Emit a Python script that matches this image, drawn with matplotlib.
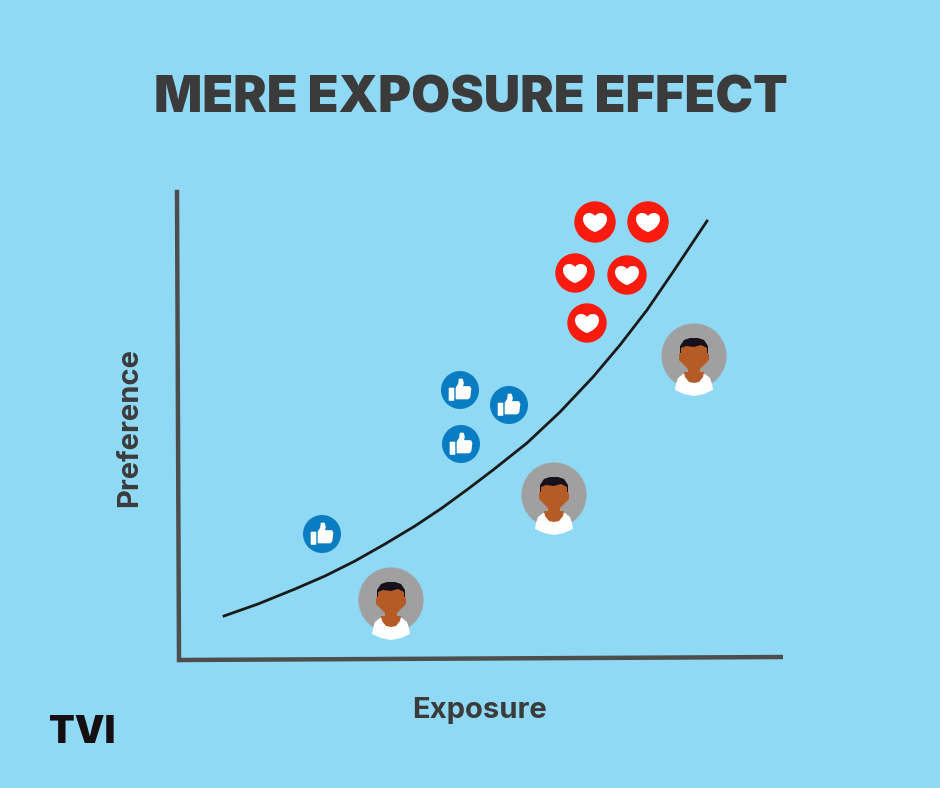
import matplotlib
matplotlib.use('Agg')
import matplotlib.pyplot as plt
from matplotlib.patches import Circle, Polygon, PathPatch, FancyBboxPatch
from matplotlib.path import Path

BG = '#8FD9F5'
DARK = '#3B3B3B'
AXIS = '#4D4D4D'
SKIN = '#B55C26'
HAIR = '#15101A'

title = 'MERE EXPOSURE EFFECT'
x_label = 'Exposure'
y_label = 'Preference'
logo = 'TVI'

# picture is read in pixels, so the axes run 0-940 / 788-0
curve_x = [224, 258, 295, 325, 355, 385, 415, 442, 468, 493, 527, 560, 593, 620, 647, 673, 693, 707]
curve_y = [616, 604, 589, 576, 561, 544, 526, 508, 489, 470, 443, 412, 377, 345, 310, 272, 242, 221]

y_axis_x = [177, 179]
y_axis_y = [192, 660]
x_axis_x = [179, 783]
x_axis_y = [660, 657]

person_x = [391, 554, 694]
person_y = [600, 495, 356]

thumb_x = [460, 509, 461, 322]
thumb_y = [390, 405, 444, 534]

heart_x = [595, 648, 575, 627, 587]
heart_y = [222, 222, 273, 275, 323]
heart_r = [20.7, 20.7, 19.7, 19.7, 19.7]


def shape(cx, cy, pts):
    return [(cx + a, cy + b) for a, b in pts]


def draw_person(ax, cx, cy):
    ax.add_patch(Circle((cx, cy), 32.6, fc='#A0A0A0', ec='none', zorder=3))
    shirt = [(-11, 18), (-16, 22), (-18, 28), (-19, 34), (-10, 38), (0, 40), (10, 38), (19, 34), (18, 28), (16, 22), (11, 18)]
    ax.add_patch(Polygon(shape(cx, cy, shirt), fc='white', ec='none', zorder=4))
    collar = [(-10, 16), (10, 16), (9, 21), (5, 26), (0, 27), (-5, 26), (-9, 21)]
    ax.add_patch(Polygon(shape(cx, cy, collar), fc=SKIN, ec='none', zorder=5))
    hair = [(-14, -3), (-14, -10), (-10, -16), (-4, -18), (4, -18), (10, -16), (14, -10), (14, -3), (12, -3), (12, -8), (0, -8), (-12, -8), (-12, -3)]
    ax.add_patch(Polygon(shape(cx, cy, hair), fc=HAIR, ec='none', zorder=5))
    face = [(-13, -8), (-8, -10), (0, -9), (7, -11), (13, -8), (13, -3), (15, -2), (15, 4), (13, 6), (6, 13), (6, 18), (-6, 18), (-6, 13), (-13, 6), (-15, 4), (-15, -2), (-13, -3)]
    ax.add_patch(Polygon(shape(cx, cy, face), fc=SKIN, ec='none', zorder=6))


def draw_thumb(ax, cx, cy):
    ax.add_patch(Circle((cx, cy), 19, fc='#0A7DC2', ec='none', zorder=3))
    ax.add_patch(FancyBboxPatch((cx - 10.5, cy - 1.5), 4, 11.5, boxstyle='round,pad=0.8', fc='white', ec='none', zorder=4))
    hand = [(-3.5, -2), (-1, -6), (-0.5, -10.5), (2, -10.5), (3, -7), (2, -3), (9.5, -3), (10.5, -1), (9.5, 7), (8, 8.5), (-3.5, 8.5)]
    ax.add_patch(Polygon(shape(cx, cy, hand), fc='white', ec='white', lw=1.2, joinstyle='round', zorder=4))


def draw_heart(ax, cx, cy, r):
    ax.add_patch(Circle((cx, cy), r, fc='#FA1A0E', ec='none', zorder=3))
    verts = shape(cx, cy, [(0, 10), (-4, 9), (-12, 4), (-12, -3), (-12, -7), (-9, -9), (-6, -9), (-3, -9), (-1, -7.5), (0, -6),
                           (1, -7.5), (3, -9), (6, -9), (9, -9), (12, -7), (12, -3), (12, 4), (4, 9), (0, 10)])
    codes = [Path.MOVETO] + [Path.CURVE4] * 18
    ax.add_patch(PathPatch(Path(verts, codes), fc='white', ec='none', zorder=4))


fig = plt.figure(figsize=(9.4, 7.88), dpi=100, facecolor=BG)
ax = fig.add_axes([0, 0, 1, 1])
ax.set_xlim(0, 940)
ax.set_ylim(788, 0)
ax.axis('off')

ax.plot(y_axis_x, y_axis_y, color=AXIS, lw=3.2, solid_capstyle='projecting', zorder=2)
ax.plot(x_axis_x, x_axis_y, color=AXIS, lw=3.2, solid_capstyle='butt', zorder=2)
ax.plot(curve_x, curve_y, color='#1A1A1A', lw=2.0, solid_joinstyle='round', zorder=2)

for px, py in zip(person_x, person_y):
    draw_person(ax, px, py)
for tx, ty in zip(thumb_x, thumb_y):
    draw_thumb(ax, tx, ty)
for hx, hy, hr in zip(heart_x, heart_y, heart_r):
    draw_heart(ax, hx, hy, hr)

ax.text(470.5, 94, title, ha='center', va='center_baseline', fontsize=36.3, family='Inter', weight='black', color=DARK)
ax.text(479, 710, x_label, ha='center', va='center', fontsize=21, family='Inter', weight='bold', color=DARK)
ax.text(130, 427, y_label, ha='center', va='center', rotation=90, fontsize=21, family='Inter', weight='bold', color=DARK)

ax.text(49, 743, logo, ha='left', va='baseline', fontsize=27, family='Inter', weight='black', color='#150F12')

fig.savefig('out.png', dpi=100, facecolor=BG)
